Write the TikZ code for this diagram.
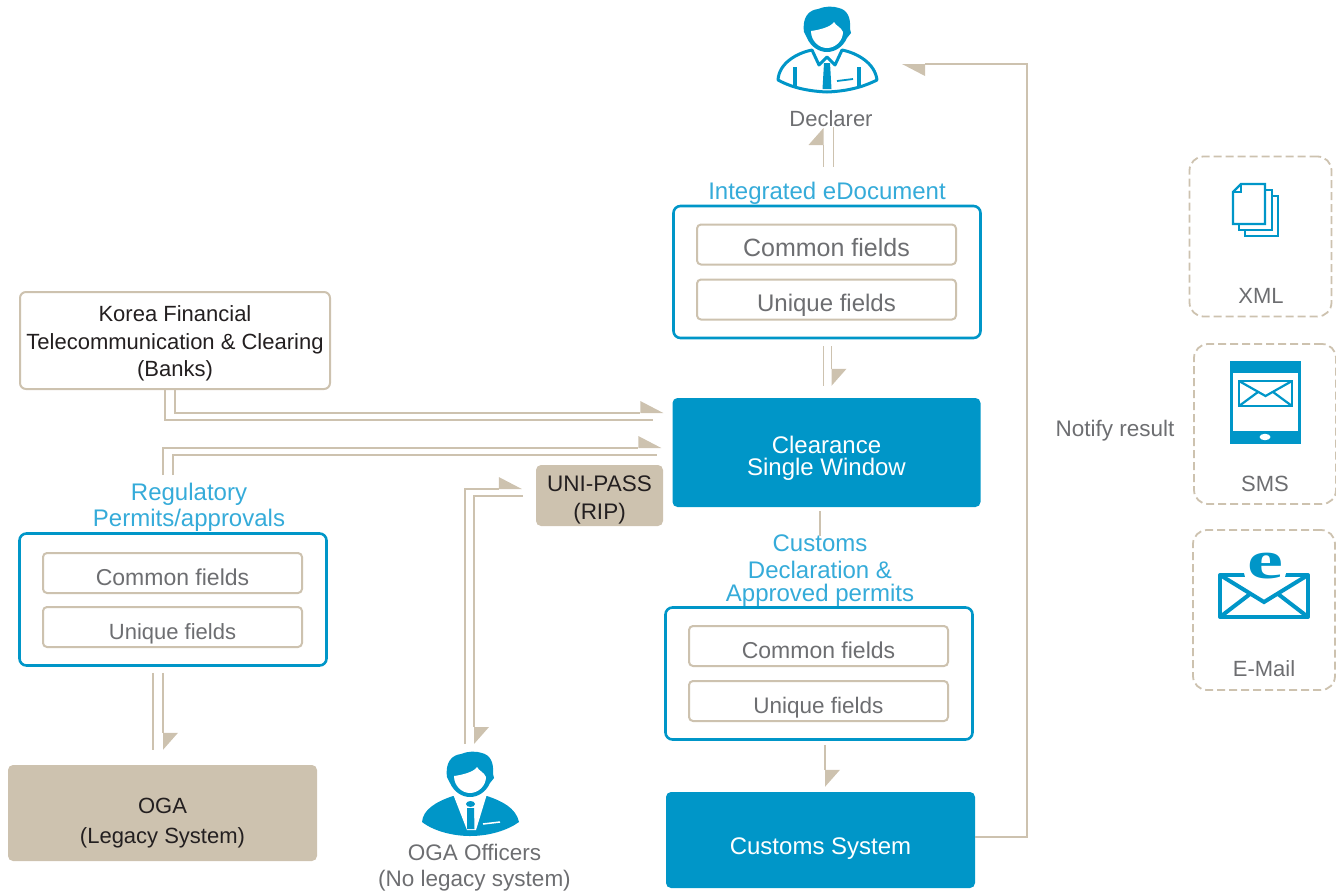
\documentclass[tikz,border=0pt]{standalone}
\usepackage{fontspec}
\setmainfont{Liberation Sans}
\newfontfamily\eicon{Liberation Serif}
\usetikzlibrary{arrows.meta, positioning}
\definecolor{cblue}{HTML}{0096C8}
\definecolor{lblue}{HTML}{35ABD9}
\definecolor{tan}{HTML}{CDC2AF}
\definecolor{gtext}{HTML}{6D6E71}
\definecolor{dtext}{HTML}{231F20}
\newcommand{\fsz}[2]{\fontsize{#1}{#2}\selectfont}
\newcommand{\lift}[1]{\rule{0pt}{#1pt}}

\tikzset{
    manhead/.pic={
        \fill[cblue] (-23,25) .. controls (-25,10) and (-18,3) .. (-9,2) .. controls (-2,-1) and (6,-1) .. (12,1) .. controls (20,3) and (24,10) .. (23,22) -- (24,26) -- (20,31) .. controls (16,40) and (8,45) .. (0,45) .. controls (-8,45) and (-16,40) .. (-20,31) -- cycle;
        \fill[white] (-16,24) .. controls (-8,23) and (4,20) .. (7,15) .. controls (9,19) and (14,20) .. (16,25) .. controls (16,34) and (8,41) .. (0,41) .. controls (-8,41) and (-16,34) .. (-16,24) -- cycle;
    }
}

\begin{document}
\begin{tikzpicture}[x=1pt, y=-1pt,
    field/.style={rectangle, draw=tan, line width=2pt, rounded corners=4pt, fill=white, minimum width=259pt, minimum height=40pt, inner sep=0pt, text=gtext, text height=24pt, text depth=0pt},
    docbox/.style={rectangle, draw=cblue, line width=2.6pt, rounded corners=7pt, fill=white, minimum width=307pt, minimum height=132pt, inner sep=0pt},
    solidblue/.style={rectangle, fill=cblue, rounded corners=5pt, inner sep=0pt, minimum width=308pt, text=white, align=center},
    solidtan/.style={rectangle, fill=tan, rounded corners=5pt, inner sep=0pt, text=dtext, align=center},
    outlet/.style={rectangle, draw=tan, line width=1.8pt, dash pattern=on 8pt off 4pt, rounded corners=14pt, minimum width=142pt, minimum height=160pt, inner sep=0pt},
    caption/.style={inner sep=0pt, text=gtext, align=center},
    bluecap/.style={inner sep=0pt, text=lblue, align=center},
    link/.style={draw=tan, line width=1.6pt},
    arrow/.style={link, -{Triangle[harpoon, length=23pt, width=24pt, line width=0pt, fill=tan]}},
    arrowv/.style={link, -{Triangle[harpoon, length=17pt, width=30pt, line width=0pt, fill=tan]}}]
    \useasboundingbox (0,0) rectangle (1336,892);
    % Nodes
    \node[rectangle, draw=tan, line width=2pt, rounded corners=6pt, fill=white, minimum width=310pt, minimum height=97pt, inner sep=0pt, text=dtext, align=center, font=\fsz{22}{27.5}] (korea) at (175,340.5) {\lift{22}Korea Financial\\Telecommunication \& Clearing\\(Banks)};
    \node[docbox] (regbox) at (173,599.5) {};
    \node[field, font=\fsz{23}{26}] (regcommon) at (172.5,573) {Common fields};
    \node[field, font=\fsz{22}{26}] (regunique) at (172.5,627) {Unique fields};
    \node[bluecap, font=\fsz{24}{26}] (reglabel) at (189,507.5) {Regulatory\\Permits/approvals};
    \node[solidtan, minimum width=309pt, minimum height=96pt, font=\fsz{22}{30}] (oga) at (162.5,813) {\lift{36}OGA\\(Legacy System)};
    \node[solidtan, minimum width=127pt, minimum height=61pt, font=\fsz{22.5}{28}] (uni) at (599.5,495.5) {\lift{24}UNI-PASS\\(RIP)};
    \node[docbox] (intbox) at (827,272) {};
    \node[field, font=\fsz{25}{28}] (intcommon) at (826.5,244.5) {Common fields};
    \node[field, font=\fsz{24}{28}] (intunique) at (826.5,299.5) {Unique fields};
    \node[bluecap, font=\fsz{24}{26}] (intlabel) at (827,193.5) {Integrated eDocument};
    \node[solidblue, minimum height=109pt, font=\fsz{24}{22}] (clear) at (826.5,452.5) {\lift{29}Clearance\\Single Window};
    \node[docbox] (declbox) at (819,673.5) {};
    \node[field, font=\fsz{23}{26}] (declcommon) at (818.5,646) {Common fields};
    \node[field, font=\fsz{22.5}{26}] (declunique) at (818.5,701) {Unique fields};
    \node[bluecap, font=\fsz{24}{23}] (decllabel) at (820,570.5) {Customs\\[4pt]Declaration \&\\Approved permits};
    \node[solidblue, minimum width=309pt, minimum height=96pt, font=\fsz{24}{26}] (system) at (820.5,840) {\lift{33}Customs System};
    \node[caption, font=\fsz{22}{26}] (declarername) at (831,119) {Declarer};
    \node[caption, font=\fsz{22.5}{26}] (officername) at (474.5,868) {OGA Officers\\(No legacy system)};
    \node[caption, font=\fsz{22.5}{26}] (notify) at (1115,431) {Notify result};
    \node[outlet] (xmlbox) at (1260.5,236.5) {};
    \node[outlet] (smsbox) at (1265,424) {};
    \node[outlet] (mailbox) at (1264,610) {};
    \node[caption, font=\fsz{22}{26}] (xmlname) at (1261,296) {XML};
    \node[caption, font=\fsz{22}{26}] (smsname) at (1265,484) {SMS};
    \node[caption, font=\fsz{22}{26}] (mailname) at (1264,669) {E-Mail};
    \coordinate (declarer) at (827,7);
    \coordinate (officer) at (470,752);

    % Declarer
    \begin{scope}[shift={(declarer)}]
        \draw[cblue, line width=3pt, fill=white, line join=round] (-15,43) .. controls (-30,46) and (-48,56) .. (-49,73) .. controls (-40,78) and (-25,84) .. (0,85) .. controls (25,84) and (40,78) .. (50,73) .. controls (48,56) and (30,46) .. (15,43) -- (8,58) -- (0,50) -- (-8,58) -- cycle;
        \fill[cblue] (-3,56) -- (3,56) -- (4.5,82) -- (-4.5,82) -- cycle;
        \draw[cblue, line width=4pt] (-32,60) -- (-32,79);
        \draw[cblue, line width=4pt] (32,60) -- (32,79);
        \draw[cblue, line width=1.8pt] (10,74) -- (26,72);
        \pic at (0,0) {manhead};
    \end{scope}
    % Officer
    \begin{scope}[shift={(officer)}]
        \fill[cblue] (-17,44) .. controls (-35,50) and (-47,58) .. (-48,70) .. controls (-35,80) and (-15,84) .. (0,84) .. controls (20,84) and (38,78) .. (49,70) .. controls (46,56) and (32,49) .. (17,44) -- cycle;
        \fill[white] (-17,42) -- (17,42) -- (6,78) -- (-3,78) -- cycle;
        \fill[cblue] (0.5,52) ellipse (4.5pt and 3pt);
        \fill[cblue] (-3,56) -- (4,56) -- (4.5,77) -- (-3,77) -- cycle;
        \draw[white, line width=1.5pt] (13,72) -- (30,70);
        \pic at (0,0) {manhead};
    \end{scope}
    % XML pages
    \draw[cblue, line width=2.2pt, fill=white] (1245,196) -- (1278,196) -- (1278,236) -- (1245,236) -- cycle;
    \draw[cblue, line width=2.2pt, fill=white] (1239,190) -- (1272,190) -- (1272,230) -- (1239,230) -- cycle;
    \draw[cblue, line width=2.2pt, fill=white] (1241,184) -- (1265,184) -- (1265,224) -- (1233,224) -- (1233,192) -- cycle;
    \draw[cblue, line width=1.4pt] (1233,192) -- (1241,192) -- (1241,184);
    % SMS tablet
    \fill[cblue] (1230,361) rectangle (1301,444);
    \fill[white] (1233,373) rectangle (1298,431);
    \fill[white] (1265,437) ellipse (5.5pt and 3.2pt);
    \draw[cblue, line width=2.6pt] (1239,381) rectangle (1292,406);
    \draw[cblue, line width=2.2pt] (1239,381) -- (1265.5,396) -- (1292,381);
    \draw[cblue, line width=2.2pt] (1239,406) -- (1258,392);
    \draw[cblue, line width=2.2pt] (1292,406) -- (1273,392);
    % E-Mail envelope
    \draw[cblue, line width=4pt, line join=round, fill=white] (1220,575) rectangle (1308,617);
    \draw[cblue, line width=4pt] (1220,575) -- (1264,602) -- (1308,575);
    \draw[cblue, line width=4pt] (1220,617) -- (1250,594);
    \draw[cblue, line width=4pt] (1308,617) -- (1278,594);
    \fill[white] (1265,572) ellipse (21pt and 15pt);
    \node[inner sep=0pt, text=cblue, xscale=1.5, font=\eicon\bfseries\fsz{54}{54}] (eglyph) at (1265,566) {e};

    % Arrows
    \draw[link] ([shift={(-10,0)}]korea.south) |- ([shift={(-19,-32.5)}]clear.west);
    \draw[arrow] (korea.south) |- ([shift={(-9,-39.5)}]clear.west);
    \draw[arrow] ([shift={(-10,-57)}]regbox.north) |- ([shift={(-11,-4.5)}]clear.west);
    \draw[link] ([shift={(0,-57)}]regbox.north) |- ([shift={(-15,2.5)}]clear.west);
    \draw[link] ([shift={(-20,6)}]regbox.south) -- ([shift={(-9.5,-15)}]oga.north);
    \draw[arrowv] ([shift={(-10,6)}]regbox.south) -- ([shift={(0.5,-15)}]oga.north);
    \draw[arrow] ([shift={(-5,-8)}]officer) |- ([shift={(-14,-6.5)}]uni.west);
    \draw[arrowv] ([shift={(-13,0.5)}]uni.west) -| ([shift={(4,-8)}]officer);
    \draw[arrowv] ([shift={(-3.5,-38)}]intbox.north) -- ([shift={(-3.5,121)}]declarer);
    \draw[link] ([shift={(6.5,-38)}]intbox.north) -- ([shift={(6.5,120)}]declarer);
    \draw[link] ([shift={(-3.5,7)}]intbox.south) -- ([shift={(-3,-12)}]clear.north);
    \draw[arrowv] ([shift={(4.5,7)}]intbox.south) -- ([shift={(5,-12)}]clear.north);
    \draw[link] ([shift={(-6.5,4)}]clear.south) -- ([shift={(1,-70)}]declbox.north);
    \draw[arrowv] ([shift={(6,4)}]declbox.south) -- ([shift={(4.5,-5)}]system.north);
    \draw[arrow] ([shift={(0,-3)}]system.east) -- ++(52,0) |- ([shift={(75,57)}]declarer);
\end{tikzpicture}
\end{document}
